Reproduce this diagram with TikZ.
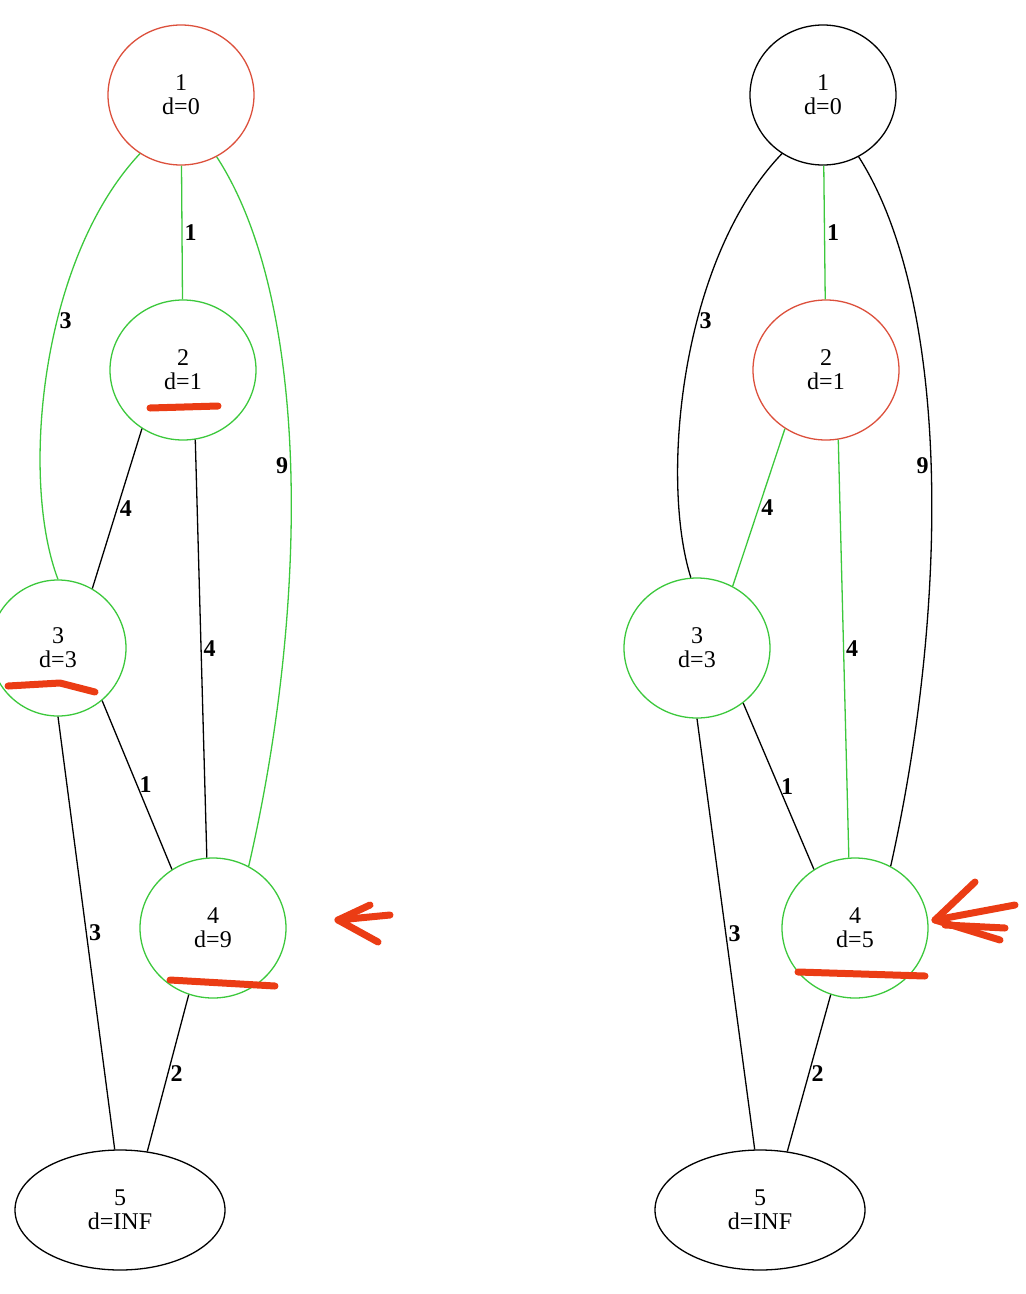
\documentclass[tikz,border=0pt]{standalone}
\usepackage{fontspec}
\setmainfont{Liberation Serif}
\usetikzlibrary{shapes.geometric}
\definecolor{gr}{RGB}{60,200,60}
\definecolor{rd}{RGB}{220,80,60}
\definecolor{mk}{RGB}{235,60,20}
\begin{document}
\begin{tikzpicture}[x=1pt,y=-1pt,
 nd/.style={draw,ellipse,minimum width=146pt,minimum height=140pt,align=center,font=\fontsize{24}{24}\selectfont,line width=1.3pt},
 nf/.style={nd,minimum width=210pt,minimum height=120pt},
 e/.style={line width=1.3pt},
 g/.style={e,gr},
 lb/.style={text=black,inner sep=2pt,font=\bfseries\fontsize{24}{24}\selectfont},
 scrib/.style={mk,line width=7pt,line cap=round,line join=round}]
\useasboundingbox (0,0) rectangle (1026,1294);
% left
\node[nd,draw=rd] (a1) at (181,95) {1\\d=0};
\node[nd,draw=gr] (a2) at (183,370) {2\\d=1};
\node[nd,draw=gr,minimum width=136pt,minimum height=136pt] (a3) at (58,648) {3\\d=3};
\node[nd,draw=gr] (a4) at (213,928) {4\\d=9};
\node[nf] (a5) at (120,1210) {5\\d=INF};
\draw[g] (a1) -- node[lb,right]{1} (a2);
\draw[g] (a1.235) .. controls (40,260) and (20,480) .. node[lb,pos=0.4,right]{3} (a3.north);
\draw[g] (a1.300) .. controls (310,300) and (310,600) .. node[lb,pos=0.5,left]{9} (a4.60);
\draw[e] (a2.235) -- node[lb,right]{4} (a3.60);
\draw[e] (a2.280) -- node[lb,right]{4} (a4.95);
\draw[e] (a3.310) -- node[lb,right]{1} (a4.125);
\draw[e] (a3.270) -- node[lb,right]{3} (a5.95);
\draw[e] (a4.250) -- node[lb,right]{2} (a5.65);
\draw[scrib] (150,408) -- (218,406);
\draw[scrib] (8,686) -- (60,683) -- (95,692);
\draw[scrib] (170,980) -- (275,986);
\draw[scrib] (390,915) -- (338,920) -- (378,942);
\draw[scrib] (338,920) -- (370,905);
% right
\node[nd] (b1) at (823,95) {1\\d=0};
\node[nd,draw=rd] (b2) at (826,370) {2\\d=1};
\node[nd,draw=gr] (b3) at (697,648) {3\\d=3};
\node[nd,draw=gr] (b4) at (855,928) {4\\d=5};
\node[nf] (b5) at (760,1210) {5\\d=INF};
\draw[g] (b1) -- node[lb,right]{1} (b2);
\draw[e] (b1.235) .. controls (680,260) and (660,480) .. node[lb,pos=0.4,right]{3} (b3.95);
\draw[e] (b1.300) .. controls (950,300) and (950,600) .. node[lb,pos=0.5,left]{9} (b4.60);
\draw[g] (b2.235) -- node[lb,right]{4} (b3.60);
\draw[g] (b2.280) -- node[lb,right]{4} (b4.95);
\draw[e] (b3.310) -- node[lb,right]{1} (b4.125);
\draw[e] (b3.270) -- node[lb,right]{3} (b5.95);
\draw[e] (b4.250) -- node[lb,right]{2} (b5.65);
\draw[scrib] (798,972) -- (925,976);
\draw[scrib] (1015,905) -- (935,920) -- (1000,940);
\draw[scrib] (935,920) -- (975,882);
\draw[scrib] (945,925) -- (1005,928);
\end{tikzpicture}
\end{document}
